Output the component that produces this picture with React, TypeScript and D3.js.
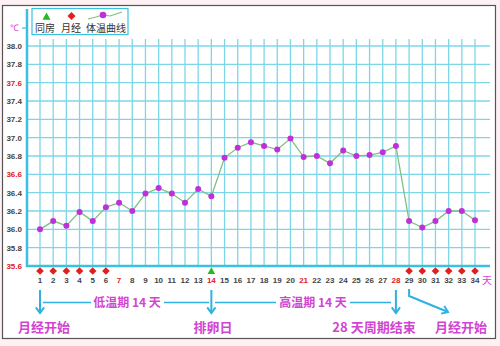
import React from "react";
import * as d3 from "d3";

const days: number[] = d3.range(1, 35);
const temps: number[] = [
  36.0, 36.09, 36.04, 36.19, 36.09, 36.24, 36.29, 36.2, 36.39, 36.45,
  36.39, 36.29, 36.44, 36.36, 36.78, 36.89, 36.95, 36.91, 36.87, 36.99,
  36.79, 36.8, 36.72, 36.86, 36.8, 36.81, 36.84, 36.91, 36.09, 36.02,
  36.09, 36.2, 36.2, 36.1,
];
const yTicks: number[] = [35.6, 35.8, 36.0, 36.2, 36.4, 36.6, 36.8, 37.0, 37.2, 37.4, 37.6, 37.8, 38.0];
const redYTicks: number[] = [35.6, 36.6, 37.6];
const mensesDays: number[] = [1, 2, 3, 4, 5, 6, 29, 30, 31, 32, 33, 34];
const intercourseDays: number[] = [14];
const redDays: number[] = [7, 14, 21, 28];
const legendLabels: string[] = ["同房", "月经", "体温曲线"];
const periodLabels: string[] = ["低温期 14 天", "高温期 14 天"];
const bottomLabels: string[] = ["月经开始", "排卵日", "28 天周期结束", "月经开始"];

const W = 500, H = 346;
const x = d3.scaleLinear().domain([1, 34]).range([40, 475]);
const y = d3.scaleLinear().domain([35.6, 38.0]).range([266, 46]);

const GRID = "#7dd6e8";
const AXIS = "#3cc0e0";
const ARROW = "#2fb2e2";
const PINK = "#d244d2";

function diamond(cx: number, cy: number, r: number) {
  return `M${cx},${cy - r}L${cx + r},${cy}L${cx},${cy + r}L${cx - r},${cy}Z`;
}
function tri(cx: number, cy: number, r: number) {
  return `M${cx},${cy - r}L${cx + r},${cy + r * 0.8}L${cx - r},${cy + r * 0.8}Z`;
}

export default function App() {
  const line = d3.line<number>().x((_, i) => x(days[i])).y((d) => y(d));
  const gridY = yTicks.filter((t) => t > 35.6);
  const arrowHead = (tx: number, ty: number, ang: number) => {
    const a1 = ang + Math.PI * 0.8, a2 = ang - Math.PI * 0.8, L = 7;
    return `M${tx + L * Math.cos(a1)},${ty + L * Math.sin(a1)}L${tx},${ty}L${tx + L * Math.cos(a2)},${ty + L * Math.sin(a2)}`;
  };
  const downArrows = [1, 14, 28];
  const labelX = [44, 213, 374, 461];
  const d29 = x(29);
  const diagAng = Math.atan2(312 - 296, 448 - d29);
  return (
    <svg width={W} height={H} style={{ position: "absolute", left: 0, top: 0 }} fontFamily="Liberation Sans, Arial, sans-serif">
      <rect x={0} y={0} width={W} height={H} fill="#fdf1f4" />
      <rect x={2.5} y={5.5} width={493} height={333} fill="#fff" stroke="#555" strokeWidth={1.2} />
      {/* grid */}
      {days.map((d) => (
        <line key={"v" + d} x1={x(d)} x2={x(d)} y1={39} y2={266} stroke={GRID} strokeWidth={1.3} />
      ))}
      {gridY.map((t) => (
        <line key={"h" + t} x1={27} x2={490} y1={y(t)} y2={y(t)} stroke={GRID} strokeWidth={1.3} />
      ))}
      {/* axes */}
      <line x1={27} x2={27} y1={9} y2={267} stroke={AXIS} strokeWidth={2.5} />
      <line x1={26} x2={490} y1={266} y2={266} stroke={AXIS} strokeWidth={2.5} />
      <line x1={22} x2={27} y1={28} y2={28} stroke={AXIS} strokeWidth={1.2} />
      <text x={14} y={31} fontSize={9} fill={PINK} textAnchor="middle">℃</text>
      {yTicks.map((t) => (
        <text key={"yl" + t} x={22} y={y(t) + 3} fontSize={8} fontWeight="bold" textAnchor="end"
          fill={redYTicks.includes(t) ? "#e02020" : "#444"}>{t.toFixed(1)}</text>
      ))}
      {/* legend */}
      <rect x={32} y={8.5} width={96} height={26} fill="#fff" stroke={AXIS} strokeWidth={1.2} />
      <path d={tri(46.5, 16.5, 4)} fill="#22bb22" />
      <path d={diamond(71.5, 16, 4)} fill="#e02020" />
      <path d="M88,19L96,17L103,15L110,16L122,12" fill="none" stroke="#80c080" strokeWidth={1.2} />
      <circle cx={103} cy={15} r={3.3} fill="#c030d8" />
      <text x={45} y={32} fontSize={10} textAnchor="middle" fill="#333" fontFamily="Noto Sans CJK SC">{legendLabels[0]}</text>
      <text x={71} y={32} fontSize={10} textAnchor="middle" fill="#333" fontFamily="Noto Sans CJK SC">{legendLabels[1]}</text>
      <text x={106} y={32} fontSize={10} textAnchor="middle" fill="#333" fontFamily="Noto Sans CJK SC">{legendLabels[2]}</text>
      {/* temperature line */}
      <path d={line(temps) || ""} fill="none" stroke="#80c080" strokeWidth={1.3} />
      {temps.map((t, i) => (
        <circle key={"p" + i} cx={x(days[i])} cy={y(t)} r={3} fill="#c030d8" />
      ))}
      {/* bottom markers */}
      {mensesDays.map((d) => (
        <path key={"m" + d} d={diamond(x(d), 271, 3.8)} fill="#e02020" />
      ))}
      {intercourseDays.map((d) => (
        <path key={"i" + d} d={tri(x(d), 271, 3.8)} fill="#22bb22" />
      ))}
      {days.map((d) => (
        <text key={"xl" + d} x={x(d)} y={283} fontSize={8} fontWeight="bold" textAnchor="middle"
          fill={redDays.includes(d) ? "#e02020" : "#444"}>{d}</text>
      ))}
      <text x={487} y={284} fontSize={10} textAnchor="middle" fill={PINK} fontFamily="Noto Sans CJK SC">天</text>
      {/* arrows */}
      {downArrows.map((d) => (
        <g key={"a" + d}>
          <line x1={x(d)} x2={x(d)} y1={290} y2={313} stroke={ARROW} strokeWidth={2} />
          <path d={arrowHead(x(d), 313, Math.PI / 2)} fill="none" stroke={ARROW} strokeWidth={2} />
        </g>
      ))}
      <path d={`M${d29},289L${d29},296L448,312`} fill="none" stroke={ARROW} strokeWidth={2} />
      <path d={arrowHead(448, 312, diagAng)} fill="none" stroke={ARROW} strokeWidth={2} />
      {/* period connectors */}
      <line x1={43} x2={91} y1={302.5} y2={302.5} stroke={ARROW} strokeWidth={1.3} />
      <line x1={164} x2={209} y1={302.5} y2={302.5} stroke={ARROW} strokeWidth={1.3} />
      <line x1={215} x2={276} y1={302.5} y2={302.5} stroke={ARROW} strokeWidth={1.3} />
      <line x1={350} x2={391} y1={302.5} y2={302.5} stroke={ARROW} strokeWidth={1.3} />
      <text x={127} y={307} fontSize={12} fontWeight="bold" textAnchor="middle" fill={PINK} fontFamily="Noto Sans CJK SC">{periodLabels[0]}</text>
      <text x={313} y={307} fontSize={12} fontWeight="bold" textAnchor="middle" fill={PINK} fontFamily="Noto Sans CJK SC">{periodLabels[1]}</text>
      {bottomLabels.map((s, i) => (
        <text key={"bl" + i} x={labelX[i]} y={332} fontSize={13} fontWeight="bold" textAnchor="middle" fill={PINK} fontFamily="Noto Sans CJK SC">{s}</text>
      ))}
    </svg>
  );
}
